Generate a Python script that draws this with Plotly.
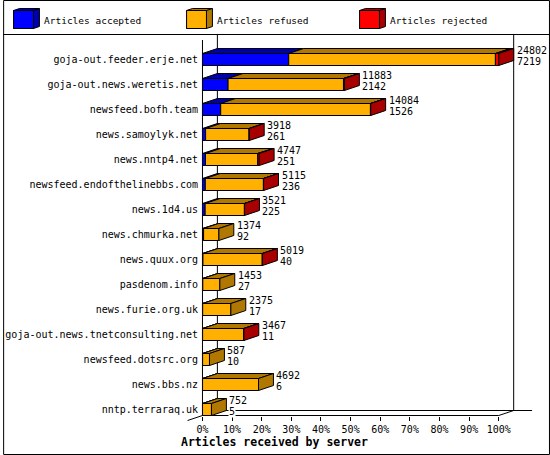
import plotly.graph_objects as go

# innreport-style "articles received by server" chart
servers = [
    "goja-out.feeder.erje.net", "goja-out.news.weretis.net", "newsfeed.bofh.team",
    "news.samoylyk.net", "news.nntp4.net", "newsfeed.endofthelinebbs.com",
    "news.1d4.us", "news.chmurka.net", "news.quux.org", "pasdenom.info",
    "news.furie.org.uk", "goja-out.news.tnetconsulting.net", "newsfeed.dotsrc.org",
    "news.bbs.nz", "nntp.terraraq.uk",
]
offered = [24802, 11883, 14084, 3918, 4747, 5115, 3521, 1374, 5019, 1453, 2375, 3467, 587, 4692, 752]
accepted = [7219, 2142, 1526, 261, 251, 236, 225, 92, 40, 27, 17, 11, 10, 6, 5]
rejected = [280, 80, 25, 12, 120, 15, 12, 0, 15, 0, 0, 12, 0, 0, 0]
refused = [o - a - r for o, a, r in zip(offered, accepted, rejected)]

seg_names = ["Articles accepted", "Articles refused", "Articles rejected"]
front_colors = ["#0000ff", "#ffb000", "#ff0000"]
dark_colors = ["#0000a8", "#b07800", "#a80000"]
pct_ticks = list(range(0, 101, 10))
pct_labels = [f"{p}%" for p in pct_ticks]

MONO = "DejaVu Sans Mono"
W, H = 550, 455
ML, MR, MT, MB = 197, 5, 35, 39
PW, PH = W - ML - MR, H - MT - MB
PX0, PX100 = 200.5, 498.5      # pixel of 0% and 100%
ROW0, ROWSTEP = 59.5, 25       # pixel centre of first row, row spacing
DEPTH_X, DEPTH_Y, HALF = 15, 5, 6

px_pct = (PX100 - PX0) / 100


def xv(px):
    return (px - PX0) / px_pct


def yv(py):
    return (py - ROW0) / ROWSTEP


def xp(px):
    return (px - ML) / PW


def yp(py):
    return 1 - (py - MT) / PH


dx = DEPTH_X / px_pct
dy = DEPTH_Y / ROWSTEP
hb = HALF / ROWSTEP
n = len(servers)
rows = list(range(n))
scale = 100 / max(offered)

segs = [accepted, refused, rejected]
fig = go.Figure()

# front faces
starts = [0.0] * n
seg_bounds = []
for s, vals in enumerate(segs):
    lens = [v * scale for v in vals]
    fig.add_trace(go.Bar(
        y=rows, x=[l if l > 0 else None for l in lens], base=starts[:],
        orientation="h", width=2 * hb, name=seg_names[s],
        marker=dict(color=front_colors[s], line=dict(color="black", width=1)),
        hoverinfo="skip", showlegend=False,
    ))
    seg_bounds.append([(b, b + l) for b, l in zip(starts, lens)])
    starts = [b + l for b, l in zip(starts, lens)]

# top faces
for s in range(3):
    xs, ys = [], []
    for k in rows:
        x0, x1 = seg_bounds[s][k]
        if x1 - x0 <= 0:
            continue
        xs += [x0, x0 + dx, x1 + dx, x1, x0, None]
        ys += [k - hb, k - hb - dy, k - hb - dy, k - hb, k - hb, None]
    fig.add_trace(go.Scatter(x=xs, y=ys, mode="lines", fill="toself",
                             fillcolor=dark_colors[s], line=dict(color="black", width=1),
                             hoverinfo="skip", showlegend=False))

# side faces, coloured by the last non-empty segment
for s in range(3):
    xs, ys = [], []
    for k in rows:
        last = max(i for i in range(3) if segs[i][k] > 0)
        if last != s:
            continue
        x1 = seg_bounds[s][k][1]
        xs += [x1, x1 + dx, x1 + dx, x1, x1, None]
        ys += [k - hb, k - hb - dy, k + hb - dy, k + hb, k - hb, None]
    fig.add_trace(go.Scatter(x=xs, y=ys, mode="lines", fill="toself",
                             fillcolor=dark_colors[s], line=dict(color="black", width=1),
                             hoverinfo="skip", showlegend=False))

# value labels: offered on top, accepted below
annotations = []
for k in rows:
    xe = offered[k] * scale + dx
    for txt, off in ((offered[k], -9), (accepted[k], 2)):
        annotations.append(dict(x=xe, y=k + off / ROWSTEP, text=str(txt), showarrow=False,
                                xanchor="left", yanchor="middle", xshift=2,
                                bgcolor="white", borderpad=0,
                                font=dict(family=MONO, size=10, color="black")))

floor_front = (n - 1) + hb
floor_back = floor_front - dy
line = dict(color="black", width=1)
shapes = [
    dict(type="line", x0=dx, x1=dx, y0=yv(35), y1=floor_back, line=line, layer="below"),
    dict(type="line", x0=0, x1=0, y0=yv(40), y1=floor_front, line=line, layer="below"),
    dict(type="line", x0=0, x1=100, y0=floor_front, y1=floor_front, line=line, layer="below"),
    dict(type="line", x0=100, x1=100 + dx, y0=floor_front, y1=floor_back, line=line, layer="below"),
    dict(type="line", x0=100 + dx, x1=100 + dx, y0=yv(35), y1=floor_back, line=line, layer="below"),
    dict(type="line", x0=dx, x1=xv(532), y0=floor_back, y1=floor_back, line=line, layer="below"),
    dict(type="line", xref="paper", yref="paper", x0=xp(PX0), y0=yp(415.5),
         x1=xp(PX0 - DEPTH_X), y1=yp(415.5 + DEPTH_Y), line=line),
    # legend separator and outer frame
    dict(type="line", xref="paper", yref="paper", x0=xp(0), x1=xp(W), y0=yp(34.5), y1=yp(34.5), line=line),
    dict(type="rect", xref="paper", yref="paper", x0=xp(0.5), x1=xp(W - 0.5),
         y0=yp(0.5), y1=yp(H - 0.5), line=line),
]

# legend cubes
legend_x = [10, 184, 358]
text_x = [39, 213, 387]
for s in range(3):
    x0, y0, w, h, ddx, ddy = legend_x[s] + 0.5, 10.5, 20, 18, 6, 2
    shapes.append(dict(type="path", xref="paper", yref="paper",
                       path=f"M{xp(x0)},{yp(y0)} L{xp(x0 + ddx)},{yp(y0 - ddy)} L{xp(x0 + w + ddx)},{yp(y0 - ddy)} "
                            f"L{xp(x0 + w + ddx)},{yp(y0 + h - ddy)} L{xp(x0 + w)},{yp(y0 + h)} L{xp(x0)},{yp(y0 + h)} Z",
                       fillcolor=dark_colors[s], line=line))
    shapes.append(dict(type="rect", xref="paper", yref="paper", x0=xp(x0), x1=xp(x0 + w),
                       y0=yp(y0), y1=yp(y0 + h), fillcolor=front_colors[s], line=line))
    shapes.append(dict(type="line", xref="paper", yref="paper", x0=xp(x0 + w), x1=xp(x0 + w + ddx),
                       y0=yp(y0), y1=yp(y0 - ddy), line=line))
    annotations.append(dict(x=xp(text_x[s]), y=yp(20), xref="paper", yref="paper",
                            text=seg_names[s], showarrow=False, xanchor="left", yanchor="middle",
                            font=dict(family=MONO, size=9.5, color="black")))

annotations.append(dict(x=xp(177), y=yp(442), xref="paper", yref="paper",
                        text="<b>Articles received by server</b>", showarrow=False,
                        xanchor="left", yanchor="middle",
                        font=dict(family=MONO, size=11.5, color="black")))

fig.update_layout(
    width=W, height=H, autosize=False,
    margin=dict(l=ML, r=MR, t=MT, b=MB, pad=0),
    paper_bgcolor="white", plot_bgcolor="white",
    barmode="overlay", showlegend=False,
    shapes=shapes, annotations=annotations,
    font=dict(family=MONO, size=10, color="black"),
    xaxis=dict(range=[xv(ML), xv(W - MR)], tickvals=pct_ticks, ticktext=pct_labels,
               ticks="outside", ticklen=4, tickcolor="black", showgrid=False,
               zeroline=False, showline=False, fixedrange=True),
    yaxis=dict(range=[yv(H - MB), yv(MT)], tickvals=rows, ticktext=servers,
               ticks="", showgrid=False, zeroline=False, showline=False, fixedrange=True),
)

fig.write_html("out.html", config={"displayModeBar": False},
               post_script="document.body.style.margin='0';document.body.style.overflow='hidden';")
